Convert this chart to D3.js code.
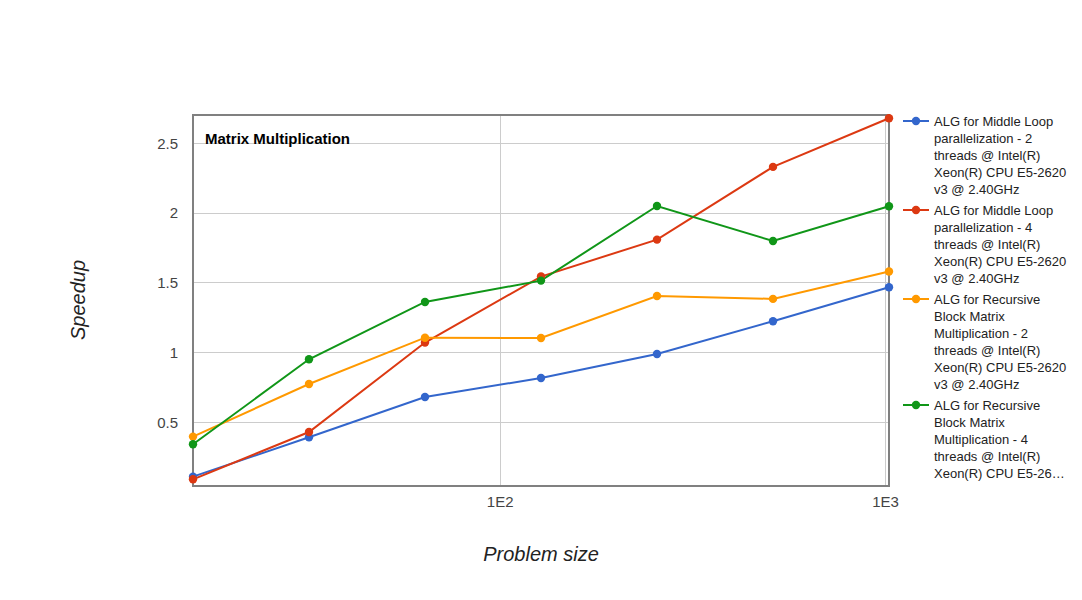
<!DOCTYPE html>
<html><head><meta charset="utf-8">
<script src="https://cdn.jsdelivr.net/npm/d3@7"></script>
<style>
html,body{margin:0;padding:0;background:#fff;}
svg{display:block;font-family:Arial,"Liberation Sans",sans-serif;}
</style></head>
<body>
<svg id="chart" width="1082" height="600"></svg>
<script>
const problemSizes = [16, 32, 64, 128, 256, 512, 1024];
const seriesNames = [
  "ALG for Middle Loop parallelization - 2 threads @ Intel(R) Xeon(R) CPU E5-2620 v3 @ 2.40GHz",
  "ALG for Middle Loop parallelization - 4 threads @ Intel(R) Xeon(R) CPU E5-2620 v3 @ 2.40GHz",
  "ALG for Recursive Block Matrix Multiplication - 2 threads @ Intel(R) Xeon(R) CPU E5-2620 v3 @ 2.40GHz",
  "ALG for Recursive Block Matrix Multiplication - 4 threads @ Intel(R) Xeon(R) CPU E5-2620 v3 @ 2.40GHz"
];
const middle2 = [0.108, 0.390, 0.679, 0.815, 0.987, 1.222, 1.466];
const middle4 = [0.089, 0.428, 1.069, 1.542, 1.807, 2.328, 2.677];
const recursive2 = [0.395, 0.772, 1.104, 1.102, 1.403, 1.382, 1.578];
const recursive4 = [0.340, 0.949, 1.360, 1.513, 2.048, 1.797, 2.046];
const seriesColors = ["#3366cc", "#dc3912", "#ff9900", "#109618"];
const yTicks = [0.5, 1, 1.5, 2, 2.5];
const xTicks = [100, 1000];
const xTickLabels = ["1E2", "1E3"];
const chartTitle = "Matrix Multiplication";
const xTitle = "Problem size";
const yTitle = "Speedup";

const seriesValues = [middle2, middle4, recursive2, recursive4];
const svg = d3.select("#chart");
const L = 193, R = 889, T = 115, B = 486;
const x = d3.scaleLog().domain([16, 1024]).range([L, R]);
const y = d3.scaleLinear().domain([0.041, 2.70]).range([B, T]);

// gridlines
svg.append("g").selectAll("line").data(yTicks).join("line")
  .attr("x1", L).attr("x2", R)
  .attr("y1", d => Math.round(y(d)) + 0.5).attr("y2", d => Math.round(y(d)) + 0.5)
  .attr("stroke", "#cccccc").attr("stroke-width", 1);
svg.append("g").selectAll("line").data(xTicks).join("line")
  .attr("x1", d => Math.round(x(d)) + 0.5).attr("x2", d => Math.round(x(d)) + 0.5)
  .attr("y1", T).attr("y2", B)
  .attr("stroke", "#cccccc").attr("stroke-width", 1);

// tick labels via axes
const yAxis = d3.axisLeft(y).tickValues(yTicks).tickSize(0).tickPadding(0).tickFormat(d3.format("~g"));
const ya = svg.append("g").attr("transform", `translate(178,0)`).call(yAxis);
ya.select(".domain").remove();
ya.selectAll("text").attr("font-size", 15).attr("fill", "#444").attr("font-family", "Arial, 'Liberation Sans', sans-serif").attr("dy", "0.35em");

const xAxis = d3.axisBottom(x).tickValues(xTicks).tickSize(0).tickPadding(0).tickFormat((d, i) => xTickLabels[i]);
const xa = svg.append("g").attr("transform", `translate(0,507)`).call(xAxis);
xa.select(".domain").remove();
xa.selectAll("text").attr("font-size", 15).attr("fill", "#444").attr("font-family", "Arial, 'Liberation Sans', sans-serif").attr("dy", 0);

// frame
svg.append("rect").attr("x", L).attr("y", T).attr("width", R - L).attr("height", B - T)
  .attr("fill", "none").attr("stroke", "#808080").attr("stroke-width", 2);

// title
svg.append("text").attr("x", 205).attr("y", 144).attr("font-size", 15).attr("font-weight", "bold")
  .attr("fill", "#000").text(chartTitle);

// lines & points
const line = d3.line().x((d, i) => x(problemSizes[i])).y(d => y(d));
seriesValues.forEach((vals, s) => {
  svg.append("path").datum(vals).attr("d", line).attr("fill", "none")
    .attr("stroke", seriesColors[s]).attr("stroke-width", 2);
});
seriesValues.forEach((vals, s) => {
  svg.append("g").selectAll("circle").data(vals).join("circle")
    .attr("cx", (d, i) => x(problemSizes[i])).attr("cy", d => y(d)).attr("r", 4.2)
    .attr("fill", seriesColors[s]);
});

// axis titles
svg.append("text").attr("x", 541).attr("y", 561).attr("text-anchor", "middle")
  .attr("font-size", 20).attr("font-style", "italic").attr("fill", "#222").text(xTitle);
svg.append("text").attr("transform", "translate(85,300) rotate(-90)").attr("text-anchor", "middle")
  .attr("font-size", 20).attr("font-style", "italic").attr("fill", "#222").text(yTitle);

// legend
const legend = svg.append("g");
const maxW = 140, truncW = 132, lineH = 17, maxY = 482;
let cy = 121;
seriesNames.forEach((name, s) => {
  const g = legend.append("g");
  g.append("line").attr("x1", 903).attr("x2", 929).attr("y1", cy).attr("y2", cy)
    .attr("stroke", seriesColors[s]).attr("stroke-width", 2);
  g.append("circle").attr("cx", 916).attr("cy", cy).attr("r", 4.2).attr("fill", seriesColors[s]);
  const t = g.append("text").attr("font-size", 13).attr("fill", "#222");
  const words = name.split(" ");
  let lines = [];
  let cur = "";
  const meas = svg.append("text").attr("font-size", 13).attr("visibility", "hidden");
  const width = str => { meas.text(str); return meas.node().getComputedTextLength(); };
  words.forEach(w => {
    const cand = cur ? cur + " " + w : w;
    if (width(cand) > maxW && cur) { lines.push(cur); cur = w; } else cur = cand;
  });
  if (cur) lines.push(cur);
  const avail = Math.floor((maxY - cy) / lineH) + 1;
  if (lines.length > avail) {
    lines = lines.slice(0, avail);
    let rest = words.slice(lines.slice(0, avail - 1).join(" ").split(" ").length).join(" ");
    while (rest.length && width(rest + "…") > truncW) rest = rest.slice(0, -1);
    lines[avail - 1] = rest.trimEnd() + "…";
  }
  meas.remove();
  lines.forEach((ln, i) => {
    t.append("tspan").attr("x", 934).attr("y", cy + i * lineH + 5).text(ln);
  });
  cy += lines.length * lineH + 4;
});
</script>
</body></html>
